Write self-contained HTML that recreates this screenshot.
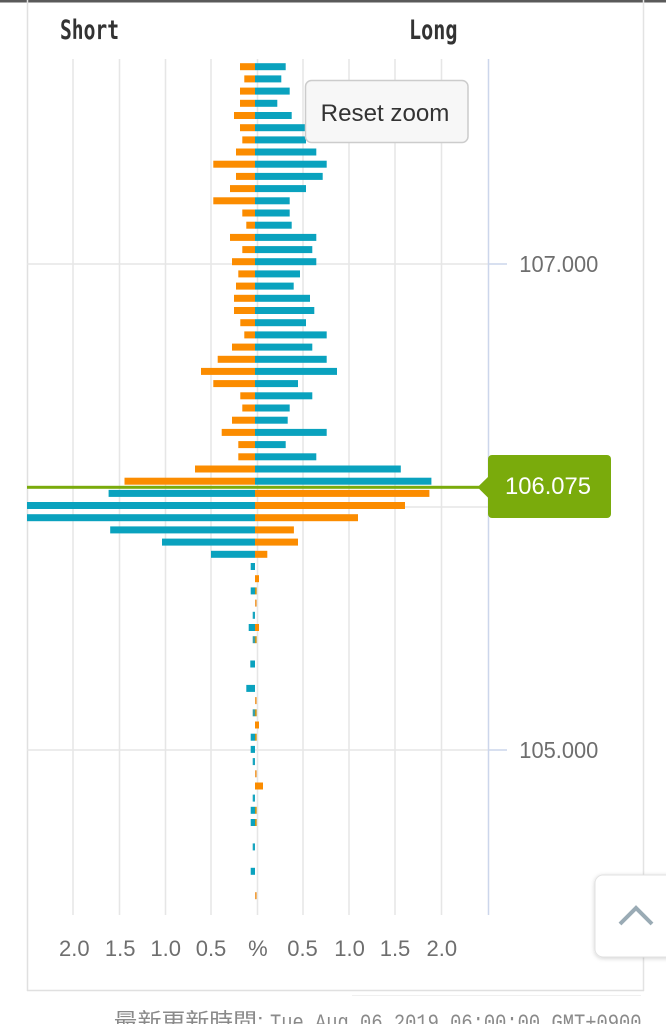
<!DOCTYPE html>
<html>
<head>
<meta charset="utf-8">
<style>
html,body{margin:0;padding:0;background:#fff;}
body{width:666px;height:1024px;overflow:hidden;position:relative;}
svg{display:block;}
</style>
</head>
<body>
<svg width="666" height="1024" viewBox="0 0 666 1024" xmlns="http://www.w3.org/2000/svg">
  <rect x="0" y="0" width="666" height="1024" fill="#ffffff"/>
  <rect x="0" y="0" width="666" height="2.5" fill="#5a5a5a"/>

  <!-- panel borders -->
  <line x1="27.5" y1="0" x2="27.5" y2="991" stroke="#e0e0e0" stroke-width="1.5"/>
  <line x1="643.5" y1="0" x2="643.5" y2="991" stroke="#e3e3e3" stroke-width="1.5"/>
  <line x1="27" y1="990.5" x2="644" y2="990.5" stroke="#e0e0e0" stroke-width="1.5"/>
  <line x1="352" y1="995.5" x2="641" y2="995.5" stroke="#f0f0f0" stroke-width="1"/>

  <!-- vertical gridlines -->
  <g stroke="#e6e6e6" stroke-width="1.5">
    <line x1="73" y1="59" x2="73" y2="915"/>
    <line x1="119.5" y1="59" x2="119.5" y2="915"/>
    <line x1="165.5" y1="59" x2="165.5" y2="915"/>
    <line x1="211" y1="59" x2="211" y2="915"/>
    <line x1="257.5" y1="59" x2="257.5" y2="915"/>
    <line x1="303" y1="59" x2="303" y2="915"/>
    <line x1="349" y1="59" x2="349" y2="915"/>
    <line x1="395" y1="59" x2="395" y2="915"/>
    <line x1="441.5" y1="59" x2="441.5" y2="915"/>
  </g>
  <!-- horizontal gridlines -->
  <g stroke="#e6e6e6" stroke-width="1.5">
    <line x1="27" y1="264" x2="488" y2="264"/>
    <line x1="27" y1="507" x2="488" y2="507"/>
    <line x1="27" y1="750" x2="488" y2="750"/>
  </g>
  <!-- right axis -->
  <g stroke="#ccd6eb" stroke-width="1.5">
    <line x1="488.5" y1="59" x2="488.5" y2="915"/>
    <line x1="488" y1="264" x2="507" y2="264"/>
    <line x1="488" y1="507" x2="507" y2="507"/>
    <line x1="488" y1="750" x2="507" y2="750"/>
  </g>

  <!-- bars upper: orange left, teal right -->
  <g>
    <rect x="240" y="63.2" width="15" height="7" fill="#fb8c00"/><rect x="255" y="63.2" width="30.7" height="7" fill="#0aa2be"/>
    <rect x="244.3" y="75.4" width="10.7" height="7" fill="#fb8c00"/><rect x="255" y="75.4" width="26.3" height="7" fill="#0aa2be"/>
    <rect x="240" y="87.6" width="15" height="7" fill="#fb8c00"/><rect x="255" y="87.6" width="34.7" height="7" fill="#0aa2be"/>
    <rect x="240" y="99.8" width="15" height="7" fill="#fb8c00"/><rect x="255" y="99.8" width="22.3" height="7" fill="#0aa2be"/>
    <rect x="234" y="112" width="21" height="7" fill="#fb8c00"/><rect x="255" y="112" width="36.7" height="7" fill="#0aa2be"/>
    <rect x="240" y="124.2" width="15" height="7" fill="#fb8c00"/><rect x="255" y="124.2" width="51" height="7" fill="#0aa2be"/>
    <rect x="242.3" y="136.4" width="12.7" height="7" fill="#fb8c00"/><rect x="255" y="136.4" width="51" height="7" fill="#0aa2be"/>
    <rect x="236" y="148.5" width="19" height="7" fill="#fb8c00"/><rect x="255" y="148.5" width="61.3" height="7" fill="#0aa2be"/>
    <rect x="213.3" y="160.7" width="41.7" height="7" fill="#fb8c00"/><rect x="255" y="160.7" width="71.7" height="7" fill="#0aa2be"/>
    <rect x="236" y="172.9" width="19" height="7" fill="#fb8c00"/><rect x="255" y="172.9" width="67.7" height="7" fill="#0aa2be"/>
    <rect x="230" y="185.1" width="25" height="7" fill="#fb8c00"/><rect x="255" y="185.1" width="51" height="7" fill="#0aa2be"/>
    <rect x="213.3" y="197.3" width="41.7" height="7" fill="#fb8c00"/><rect x="255" y="197.3" width="34.7" height="7" fill="#0aa2be"/>
    <rect x="242.3" y="209.5" width="12.7" height="7" fill="#fb8c00"/><rect x="255" y="209.5" width="34.7" height="7" fill="#0aa2be"/>
    <rect x="246.3" y="221.7" width="8.7" height="7" fill="#fb8c00"/><rect x="255" y="221.7" width="36.7" height="7" fill="#0aa2be"/>
    <rect x="230" y="233.9" width="25" height="7" fill="#fb8c00"/><rect x="255" y="233.9" width="61.3" height="7" fill="#0aa2be"/>
    <rect x="242.3" y="246.1" width="12.7" height="7" fill="#fb8c00"/><rect x="255" y="246.1" width="57.3" height="7" fill="#0aa2be"/>
    <rect x="232" y="258.2" width="23" height="7" fill="#fb8c00"/><rect x="255" y="258.2" width="61.3" height="7" fill="#0aa2be"/>
    <rect x="238.3" y="270.4" width="16.7" height="7" fill="#fb8c00"/><rect x="255" y="270.4" width="45" height="7" fill="#0aa2be"/>
    <rect x="236" y="282.6" width="19" height="7" fill="#fb8c00"/><rect x="255" y="282.6" width="38.7" height="7" fill="#0aa2be"/>
    <rect x="234" y="294.8" width="21" height="7" fill="#fb8c00"/><rect x="255" y="294.8" width="55" height="7" fill="#0aa2be"/>
    <rect x="234" y="307" width="21" height="7" fill="#fb8c00"/><rect x="255" y="307" width="59.3" height="7" fill="#0aa2be"/>
    <rect x="240.3" y="319.2" width="14.7" height="7" fill="#fb8c00"/><rect x="255" y="319.2" width="51" height="7" fill="#0aa2be"/>
    <rect x="244.3" y="331.4" width="10.7" height="7" fill="#fb8c00"/><rect x="255" y="331.4" width="71.7" height="7" fill="#0aa2be"/>
    <rect x="232" y="343.6" width="23" height="7" fill="#fb8c00"/><rect x="255" y="343.6" width="57.3" height="7" fill="#0aa2be"/>
    <rect x="217.7" y="355.8" width="37.3" height="7" fill="#fb8c00"/><rect x="255" y="355.8" width="71.7" height="7" fill="#0aa2be"/>
    <rect x="201" y="367.9" width="54" height="7" fill="#fb8c00"/><rect x="255" y="367.9" width="82" height="7" fill="#0aa2be"/>
    <rect x="213.3" y="380.1" width="41.7" height="7" fill="#fb8c00"/><rect x="255" y="380.1" width="43" height="7" fill="#0aa2be"/>
    <rect x="240.3" y="392.3" width="14.7" height="7" fill="#fb8c00"/><rect x="255" y="392.3" width="57.3" height="7" fill="#0aa2be"/>
    <rect x="242.3" y="404.5" width="12.7" height="7" fill="#fb8c00"/><rect x="255" y="404.5" width="34.7" height="7" fill="#0aa2be"/>
    <rect x="232" y="416.7" width="23" height="7" fill="#fb8c00"/><rect x="255" y="416.7" width="32.7" height="7" fill="#0aa2be"/>
    <rect x="221.7" y="428.9" width="33.3" height="7" fill="#fb8c00"/><rect x="255" y="428.9" width="71.7" height="7" fill="#0aa2be"/>
    <rect x="238.3" y="441.1" width="16.7" height="7" fill="#fb8c00"/><rect x="255" y="441.1" width="30.7" height="7" fill="#0aa2be"/>
    <rect x="238.3" y="453.3" width="16.7" height="7" fill="#fb8c00"/><rect x="255" y="453.3" width="61.3" height="7" fill="#0aa2be"/>
    <rect x="195" y="465.5" width="60" height="7" fill="#fb8c00"/><rect x="255" y="465.5" width="145.8" height="7" fill="#0aa2be"/>
    <rect x="124.5" y="477.7" width="130.5" height="7" fill="#fb8c00"/><rect x="255" y="477.7" width="176.4" height="7" fill="#0aa2be"/>
  </g>
  <!-- bars lower: teal left, orange right -->
  <g>
    <rect x="108.6" y="489.9" width="146.4" height="7" fill="#0aa2be"/><rect x="255" y="489.9" width="174.4" height="7" fill="#fb8c00"/>
    <rect x="27" y="502" width="228" height="7" fill="#0aa2be"/><rect x="255" y="502" width="150" height="7" fill="#fb8c00"/>
    <rect x="27" y="514.2" width="228" height="7" fill="#0aa2be"/><rect x="255" y="514.2" width="103" height="7" fill="#fb8c00"/>
    <rect x="110.2" y="526.4" width="144.8" height="7" fill="#0aa2be"/><rect x="255" y="526.4" width="38.9" height="7" fill="#fb8c00"/>
    <rect x="162" y="538.6" width="93" height="7" fill="#0aa2be"/><rect x="255" y="538.6" width="43" height="7" fill="#fb8c00"/>
    <rect x="211" y="550.8" width="44" height="7" fill="#0aa2be"/><rect x="255" y="550.8" width="12.3" height="7" fill="#fb8c00"/>
    <!-- small bars -->
    <rect x="250.7" y="563" width="4.3" height="7" fill="#0aa2be"/>
    <rect x="255" y="575.2" width="4" height="7" fill="#fb8c00"/>
    <rect x="250.7" y="587.4" width="4.3" height="7" fill="#0aa2be"/><rect x="255" y="587.4" width="1.7" height="7" fill="#c9961a"/>
    <rect x="255" y="599.6" width="1.7" height="7" fill="#f0a040"/>
    <rect x="252.7" y="611.8" width="2.3" height="7" fill="#1aa6c0"/>
    <rect x="248.7" y="624" width="6.3" height="7" fill="#0aa2be"/><rect x="255" y="624" width="4" height="7" fill="#fb8c00"/>
    <rect x="252.7" y="636.2" width="2.3" height="7" fill="#3a9fa8"/><rect x="255" y="636.2" width="1.7" height="7" fill="#c9961a"/>
    <rect x="250.3" y="660.5" width="4.7" height="7" fill="#0aa2be"/>
    <rect x="246.3" y="684.9" width="8.7" height="7" fill="#0aa2be"/>
    <rect x="255" y="697.1" width="1.7" height="7" fill="#f0a040"/>
    <rect x="252.7" y="709.3" width="2.3" height="7" fill="#3a9fa8"/><rect x="255" y="709.3" width="1.7" height="7" fill="#c9961a"/>
    <rect x="255" y="721.5" width="4" height="7" fill="#fb8c00"/>
    <rect x="250.7" y="733.7" width="4.3" height="7" fill="#0aa2be"/><rect x="255" y="733.7" width="1.7" height="7" fill="#c9961a"/>
    <rect x="250.7" y="745.9" width="4.3" height="7" fill="#0aa2be"/>
    <rect x="252.7" y="758.1" width="2.3" height="7" fill="#1aa6c0"/>
    <rect x="255" y="770.3" width="1.7" height="7" fill="#f0a040"/>
    <rect x="255" y="782.5" width="8" height="7" fill="#fb8c00"/>
    <rect x="252.7" y="794.6" width="2.3" height="7" fill="#1aa6c0"/>
    <rect x="250.7" y="806.8" width="4.3" height="7" fill="#0aa2be"/><rect x="255" y="806.8" width="1.7" height="7" fill="#c9961a"/>
    <rect x="250.7" y="819" width="4.3" height="7" fill="#0aa2be"/><rect x="255" y="819" width="1.7" height="7" fill="#c9961a"/>
    <rect x="252.7" y="843.4" width="2.3" height="7" fill="#1aa6c0"/>
    <rect x="250.7" y="867.8" width="4.3" height="7" fill="#0aa2be"/>
    <rect x="255" y="892.2" width="1.7" height="7" fill="#f0a040"/>
  </g>

  <!-- current price line + label -->
  <rect x="27" y="485.8" width="452" height="3" fill="#7aab0c"/>
  <polygon points="477.5,487.3 489,476 489,498.6" fill="#7aab0c"/>
  <rect x="488" y="455" width="123" height="63" rx="4" ry="4" fill="#7aab0c"/>
  <text x="505" y="494" font-family="Liberation Sans, sans-serif" font-size="24.5" fill="#ffffff" textLength="86" lengthAdjust="spacingAndGlyphs">106.075</text>

  <!-- right axis labels -->
  <text x="519.3" y="272" font-family="Liberation Sans, sans-serif" font-size="23" fill="#6e6e6e" textLength="79" lengthAdjust="spacingAndGlyphs">107.000</text>
  <text x="519.3" y="758" font-family="Liberation Sans, sans-serif" font-size="23" fill="#6e6e6e" textLength="79" lengthAdjust="spacingAndGlyphs">105.000</text>

  <!-- bottom axis labels -->
  <g font-family="Liberation Sans, sans-serif" font-size="22" fill="#6e6e6e" text-anchor="middle">
    <text x="74.3" y="956">2.0</text>
    <text x="120.2" y="956">1.5</text>
    <text x="165.7" y="956">1.0</text>
    <text x="211" y="956">0.5</text>
    <text x="257.9" y="956">%</text>
    <text x="302.5" y="956">0.5</text>
    <text x="349.6" y="956">1.0</text>
    <text x="395" y="956">1.5</text>
    <text x="441.8" y="956">2.0</text>
  </g>

  <!-- titles -->
  <text x="60" y="39" font-family="DejaVu Sans Mono, Liberation Mono, monospace" font-weight="bold" font-size="27" fill="#333333" textLength="59" lengthAdjust="spacingAndGlyphs">Short</text>
  <text x="409" y="39" font-family="DejaVu Sans Mono, Liberation Mono, monospace" font-weight="bold" font-size="27" fill="#333333" textLength="48.5" lengthAdjust="spacingAndGlyphs">Long</text>

  <!-- reset zoom button -->
  <rect x="305.5" y="80.5" width="162.5" height="62" rx="6" ry="6" fill="#f7f7f7" stroke="#cccccc" stroke-width="1.5"/>
  <text x="320.7" y="121" font-family="Liberation Sans, sans-serif" font-size="24" fill="#333333" textLength="128.7" lengthAdjust="spacingAndGlyphs">Reset zoom</text>

  <!-- scroll top button -->
  <defs>
    <filter id="sh" x="-20%" y="-20%" width="140%" height="140%">
      <feDropShadow dx="0" dy="1" stdDeviation="2" flood-color="#000" flood-opacity="0.18"/>
    </filter>
  </defs>
  <rect x="595" y="875" width="90" height="82" rx="8" ry="8" fill="#ffffff" stroke="#e2e2e2" stroke-width="1" filter="url(#sh)"/>
  <polyline points="620,924 636,908 652,924" fill="none" stroke="#9aabb5" stroke-width="4"/>

  <!-- footer -->
  <text x="113.7" y="1029" font-family="Liberation Sans, Noto Sans CJK TC, sans-serif" font-size="22" fill="#8a8a8a" textLength="150" lengthAdjust="spacingAndGlyphs">最新更新時間:</text>
  <text x="270" y="1029" font-family="Liberation Mono, monospace" font-size="22" fill="#8a8a8a" textLength="371.5" lengthAdjust="spacingAndGlyphs">Tue Aug 06 2019 06:00:00 GMT+0900</text>
</svg>
</body>
</html>
